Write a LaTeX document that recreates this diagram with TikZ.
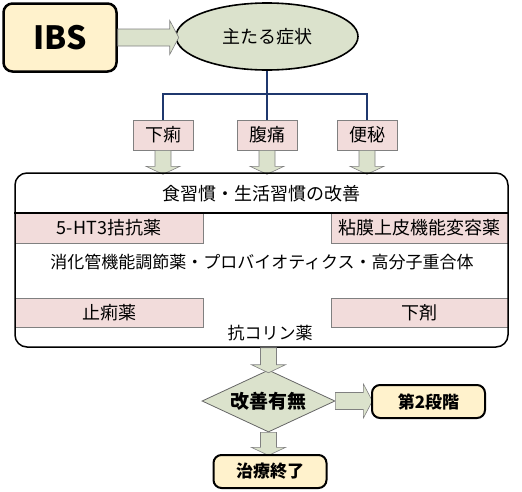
\documentclass[tikz,border=0pt]{standalone}
\usepackage{fontspec}
\setmainfont{Noto Sans CJK JP}
\usetikzlibrary{shapes.geometric}

\definecolor{cream}{RGB}{255,242,204}
\definecolor{sage}{RGB}{219,226,204}
\definecolor{rose}{RGB}{242,220,219}
\definecolor{navy}{RGB}{31,56,110}

\tikzset{
  pics/fatright/.style={code={
    \draw[fatarrow] (0,-8.5) -- (#1-9,-8.5) -- (#1-9,-17) -- (#1,0) -- (#1-9,17) -- (#1-9,8.5) -- (0,8.5) -- cycle;}},
  pics/fatdown/.style={code={
    \draw[fatarrow] (-8,0) -- (-8,#1-8) -- (-17,#1-8) -- (0,#1) -- (17,#1-8) -- (8,#1-8) -- (8,0) -- cycle;}}
}

\begin{document}
\begin{tikzpicture}[x=1pt,y=-1pt]
        % Define styles for the nodes
        \tikzstyle{fatarrow}=[draw=black!50,line width=0.6pt,fill=sage]
        \tikzstyle{startbox}=[draw,line width=2.5pt,fill=cream,rounded corners=9pt,minimum width=113pt,minimum height=68pt,font=\fontsize{32pt}{32pt}\selectfont\bfseries]
        \tikzstyle{symptom}=[ellipse,draw,line width=1.6pt,fill=sage,inner sep=0pt,minimum width=182pt,minimum height=67pt,font=\fontsize{18pt}{18pt}\selectfont]
        \tikzstyle{sign}=[draw=black!50,line width=0.6pt,fill=rose,inner sep=0pt,minimum width=60pt,minimum height=30pt,font=\fontsize{18pt}{18pt}\selectfont]
        \tikzstyle{drug}=[draw=black!50,line width=0.6pt,fill=rose,inner sep=0pt,minimum height=30pt,font=\fontsize{18pt}{18pt}\selectfont]
        \tikzstyle{plain}=[inner sep=0pt,font=\fontsize{17pt}{17pt}\selectfont]
        \tikzstyle{decision}=[diamond,draw=black!60,line width=0.8pt,fill=sage,aspect=2.15,inner sep=0pt,minimum width=133pt,minimum height=62pt,font=\fontsize{19pt}{19pt}\selectfont\bfseries]
        \tikzstyle{endbox}=[draw,line width=2pt,fill=cream,rounded corners=8pt,minimum width=113pt,minimum height=33pt,font=\fontsize{17pt}{17pt}\selectfont\bfseries]
        \tikzstyle{bus}=[draw=navy,line width=2.4pt]

        \useasboundingbox (0,0) rectangle (522,491);

        % Draw the top row
        \node[startbox] (ibs) at (60,37.5) {IBS};
        \node[symptom] (sym) at (267,36.5) {主たる症状};
        \pic at (ibs.east) {fatright=61};

        % Draw the symptoms
        \node[sign] (geri) at (163,135) {下痢};
        \node[sign] (futsu) at (267,135) {腹痛};
        \node[sign] (benpi) at (367,135) {便秘};
        \coordinate (hub) at (267,94);
        \draw[bus] (sym.south) -- (futsu.north);
        \draw[bus] (geri.north) |- (hub) -| (benpi.north);
        \pic at (geri.south) {fatdown=24};
        \pic at (futsu.south) {fatdown=24};
        \pic at (benpi.south) {fatdown=24};

        % Draw the treatment box
        \node[drug,minimum width=188pt] (ht3) at (109,228) {5-HT3拮抗薬};
        \node[drug,minimum width=177pt] (mucosa) at (419.5,228) {粘膜上皮機能変容薬};
        \node[drug,minimum width=188pt,minimum height=29pt] (antidiar) at (109,312.5) {止痢薬};
        \node[drug,minimum width=177pt,minimum height=29pt] (laxative) at (419.5,312.5) {下剤};
        \node[draw,line width=1.5pt,rounded corners=12pt,minimum width=493pt,minimum height=174pt] (care) at (261.5,260) {};
        \node[plain,font=\fontsize{18pt}{18pt}\selectfont] (diet) at (261.5,194) {食習慣・生活習慣の改善};
        \coordinate (rule) at (261.5,213);
        \draw[line width=1.5pt] (care.west |- rule) -- (care.east |- rule);
        \node[plain] (regul) at (262,262) {消化管機能調節薬・プロバイオティクス・高分子重合体};
        \node[plain] (anticho) at (270,333) {抗コリン薬};

        % Draw the decision and the ends
        \node[decision] (judge) at (268.5,401) {改善有無};
        \pic at (judge.north |- care.south) {fatdown=25};
        \pic at (judge.east) {fatright=37};
        \pic at (judge.south) {fatdown=23};
        \node[endbox] (next) at (428.5,401.5) {第2段階};
        \node[endbox] (done) at (270,471.5) {治療終了};
\end{tikzpicture}
\end{document}
